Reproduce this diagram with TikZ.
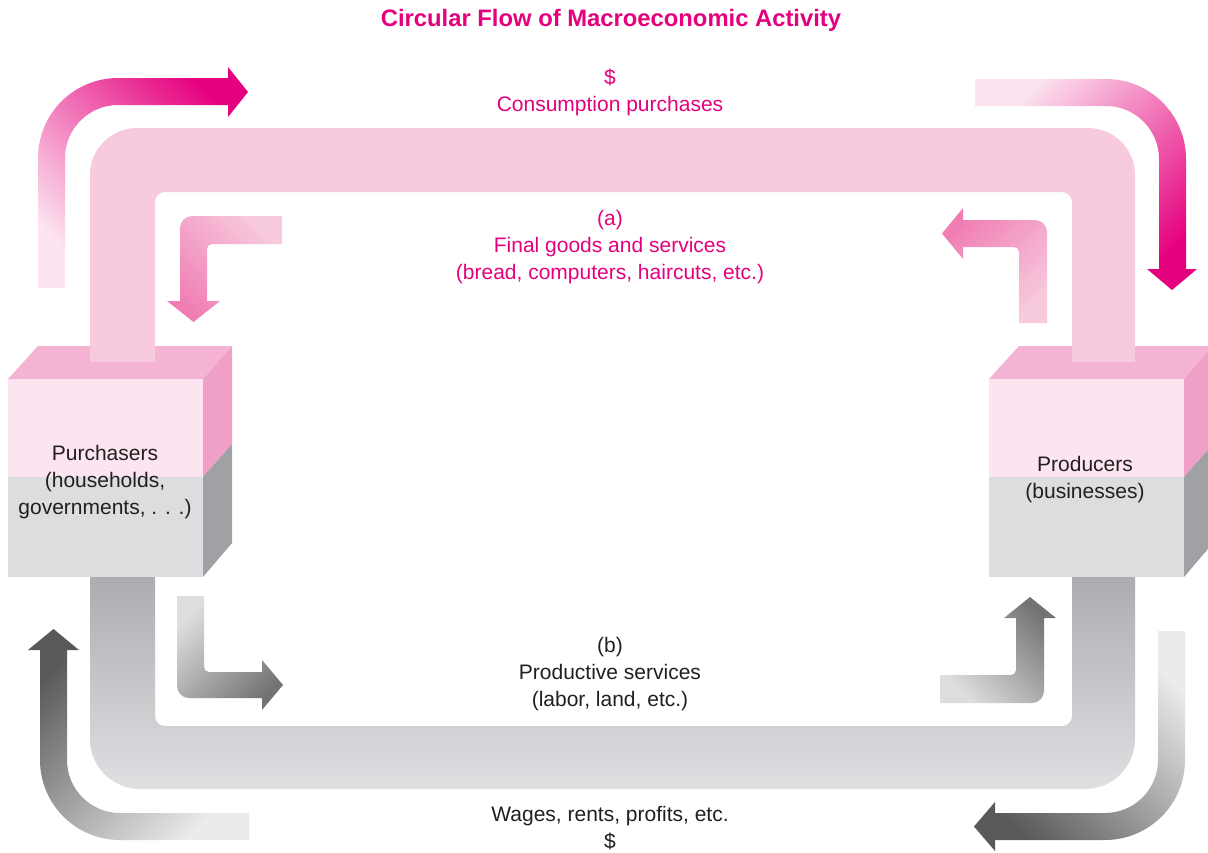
\documentclass[tikz,border=0pt]{standalone}
\usepackage{fontspec}
\setmainfont{Liberation Sans}
\usepackage{tikz}
\definecolor{magflow}{HTML}{E5007E}
\definecolor{pinkband}{HTML}{F7CADD}
\definecolor{pinktop}{HTML}{F4B3D3}
\definecolor{pinkfront}{HTML}{FCE5F0}
\definecolor{pinkside}{HTML}{F09FC7}
\definecolor{pinkmid}{HTML}{F07DB3}
\definecolor{greyfront}{HTML}{DCDDDF}
\definecolor{greyside}{HTML}{A0A1A4}
\definecolor{greybandtop}{HTML}{ACADB0}
\definecolor{greybandbot}{HTML}{DFE0E2}
\definecolor{textdark}{HTML}{231F20}

\begin{document}
\begin{tikzpicture}[x=1pt, y=-1pt,
    every node/.style={font=\fontsize{21}{27}\selectfont, align=center, inner sep=0pt},
    lbl/.style={text=textdark}, mlbl/.style={text=magflow}]
  \useasboundingbox[fill=white] (0,0) rectangle (1208,852);

  % boxes
  \fill[pinkfront] (8,379) rectangle (203,477);
  \fill[greyfront] (8,477) rectangle (203,577);
  \fill[pinktop] (8,379) -- (38,346) -- (232,346) -- (203,379) -- cycle;
  \fill[pinkside] (203,379) -- (232,346) -- (232,444) -- (203,477) -- cycle;
  \fill[greyside] (203,477) -- (232,444) -- (232,543) -- (203,577) -- cycle;
  \fill[pinkfront] (989,379) rectangle (1184,477);
  \fill[greyfront] (989,477) rectangle (1184,577);
  \fill[pinktop] (989,379) -- (1019,346) -- (1213,346) -- (1184,379) -- cycle;
  \fill[pinkside] (1184,379) -- (1213,346) -- (1213,444) -- (1184,477) -- cycle;
  \fill[greyside] (1184,477) -- (1213,444) -- (1213,543) -- (1184,577) -- cycle;

  % bands
  \fill[pinkband] (90,362) -- (90,175) arc[start angle=180, end angle=270, radius=47] -- (1088,128)
    arc[start angle=270, end angle=360, radius=47] -- (1135,362) -- (1072,362) -- (1072,202)
    arc[start angle=0, end angle=-90, radius=10] -- (165,192)
    arc[start angle=270, end angle=180, radius=10] -- (155,362) -- cycle;
  \shade[top color=greybandtop, bottom color=greybandbot] (90,577) -- (90,739)
    arc[start angle=180, end angle=90, radius=50] -- (1085,789)
    arc[start angle=90, end angle=0, radius=50] -- (1135,577) -- (1072,577) -- (1072,716)
    arc[start angle=0, end angle=90, radius=10] -- (165,726)
    arc[start angle=90, end angle=180, radius=10] -- (155,577) -- cycle;

  % outer arrows
  \shade[bottom color=pinkfront, middle color=pinkside, top color=magflow, shading angle=-45]
    (38,288) -- (38,158) arc[start angle=180, end angle=270, radius=80] -- (228,78) -- (228,67)
    -- (248,92) -- (228,117) -- (228,105) -- (118,105)
    arc[start angle=270, end angle=180, radius=53] -- (65,288) -- cycle;
  \shade[bottom color=pinkfront, middle color=pinkmid, top color=magflow, shading angle=-135]
    (975,79) -- (1106,79) arc[start angle=270, end angle=360, radius=80] -- (1186,269) -- (1197,269)
    -- (1172,290) -- (1147,269) -- (1159,269) -- (1159,159)
    arc[start angle=0, end angle=-90, radius=53] -- (975,106) -- cycle;
  \shade[bottom color=greyfront!60, middle color=greyside, top color=black!65, shading angle=45]
    (249,840) -- (120,840) arc[start angle=90, end angle=180, radius=80] -- (40,650) -- (28,650)
    -- (53.5,629) -- (79,650) -- (67,650) -- (67,760)
    arc[start angle=180, end angle=90, radius=53] -- (249,813) -- cycle;
  \shade[top color=greyfront!60, middle color=greyside, bottom color=black!65, shading angle=-45]
    (1158,631) -- (1158,760) arc[start angle=0, end angle=90, radius=53] -- (995,813) -- (995,802)
    -- (974,826.5) -- (995,851) -- (995,840) -- (1105,840)
    arc[start angle=90, end angle=0, radius=80] -- (1185,631) -- cycle;

  % inner arrows
  \shade[top color=pinkband, bottom color=pinkmid, shading angle=-45]
    (282,216) -- (192,216) arc[start angle=270, end angle=180, radius=12] -- (180,301) -- (167,301)
    -- (193.5,322) -- (220,301) -- (207,301) -- (207,249)
    arc[start angle=180, end angle=270, radius=5] -- (282,244) -- cycle;
  \shade[top color=pinkmid, bottom color=pinkband, shading angle=45]
    (1019,323) -- (1019,252) arc[start angle=0, end angle=-90, radius=5] -- (963,247) -- (963,259)
    -- (942,233.5) -- (963,208) -- (963,220) -- (1035,220)
    arc[start angle=270, end angle=360, radius=12] -- (1047,323) -- cycle;
  \shade[top color=greyfront, bottom color=black!55, shading angle=45]
    (177,596) -- (177,686) arc[start angle=180, end angle=90, radius=12] -- (262,698) -- (262,710)
    -- (283,685) -- (262,660) -- (262,672) -- (209,672)
    arc[start angle=90, end angle=180, radius=5] -- (204,596) -- cycle;
  \shade[top color=black!55, bottom color=greyfront, shading angle=-45]
    (940,675) -- (1011,675) arc[start angle=90, end angle=0, radius=5] -- (1016,618) -- (1004,618)
    -- (1030,597) -- (1056,618) -- (1044,618) -- (1044,691)
    arc[start angle=0, end angle=90, radius=12] -- (940,703) -- cycle;

  % labels
  \node[mlbl, font=\fontsize{23.8}{28}\selectfont\bfseries] (title) at (611,20) {Circular Flow of Macroeconomic Activity};
  \node[mlbl] (consum) at (610,92) {\$\\Consumption purchases};
  \node[mlbl] (goods) at (610,247) {(a)\\Final goods and services\\(bread, computers, haircuts, etc.)};
  \node[lbl] (serv) at (610,674) {(b)\\Productive services\\(labor, land, etc.)};
  \node[lbl] (wages) at (610,828) {Wages, rents, profits, etc.\\\$};
  \node[lbl] (purch) at (105,482) {Purchasers\\(households,\\governments, . . .)};
  \node[lbl] (prod) at (1085,480) {Producers\\(businesses)};
\end{tikzpicture}
\end{document}
